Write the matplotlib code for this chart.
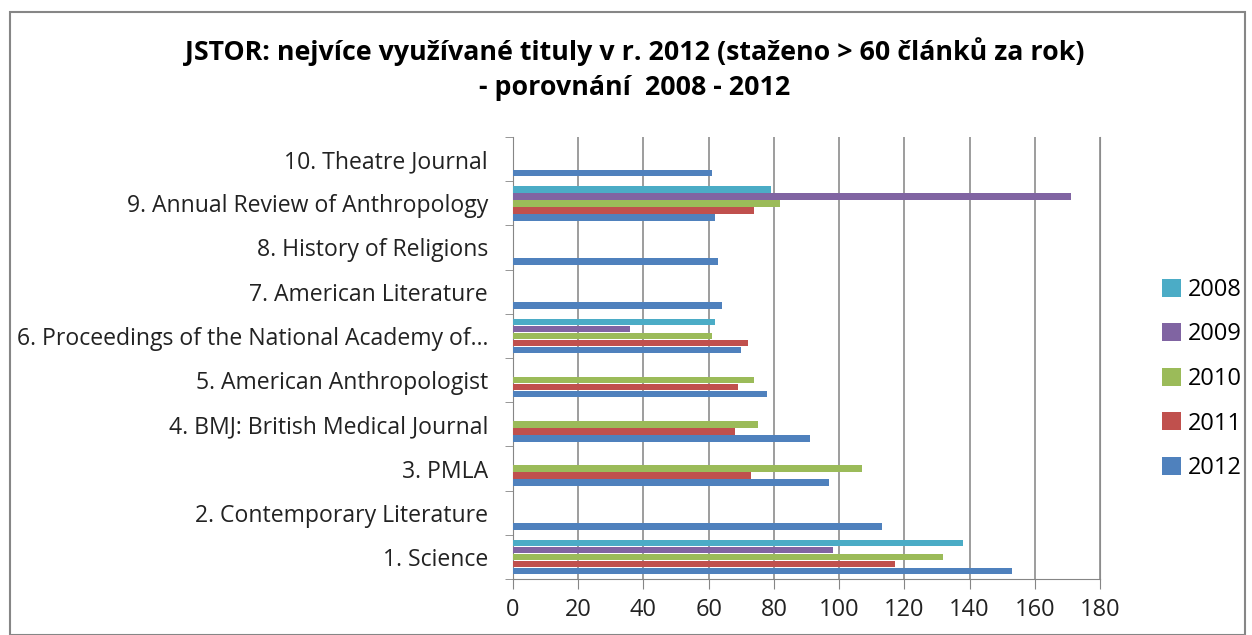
import numpy as np
import matplotlib.pyplot as plt
from matplotlib.patches import Rectangle

plt.rcParams['font.family'] = ['Open Sans', 'DejaVu Sans']

# categories bottom to top
titles = ["1. Science", "2. Contemporary Literature", "3. PMLA",
          "4. BMJ: British Medical Journal", "5. American Anthropologist",
          "6. Proceedings of the National Academy of\u2026",
          "7. American Literature", "8. History of Religions",
          "9. Annual Review of Anthropology", "10. Theatre Journal"]

nan = np.nan
y2012 = [153, 113, 97, 91, 78, 70, 64, 63, 62, 61]
y2011 = [117, nan, 73, 68, 69, 72, nan, nan, 74, nan]
y2010 = [132, nan, 107, 75, 74, 61, nan, nan, 82, nan]
y2009 = [98, nan, nan, nan, nan, 36, nan, nan, 171, nan]
y2008 = [138, nan, nan, nan, nan, 62, nan, nan, 79, nan]

series = [("2012", y2012, "#4F81BD"), ("2011", y2011, "#C0504D"),
          ("2010", y2010, "#9BBB59"), ("2009", y2009, "#8064A2"),
          ("2008", y2008, "#4BACC6")]
xticks = list(range(0, 181, 20))

fig = plt.figure(figsize=(12.52, 6.35), dpi=100)
ax = fig.add_axes([513/1252, 1-579/635, (1100-513)/1252, (579-137)/635])

pos = np.arange(len(titles))
group = 0.79
h = group / len(series)
handles = []
for k, (name, vals, col) in enumerate(series):
    b = ax.barh(pos - group/2 + h*(k+0.5), vals, height=h*0.95, color=col,
                label=name, zorder=3)
    handles.append(b)

ax.set_xlim(0, 180)
ax.set_ylim(-0.5, len(titles)-0.5)
ax.set_xticks(xticks)
ax.set_yticks(pos)
ax.set_yticklabels(titles)
ax.set_yticks(np.arange(-0.5, len(titles)), minor=True)
ax.tick_params(axis='y', which='major', length=0, labelsize=16.6, pad=18, colors='#222222')
ax.tick_params(axis='y', which='minor', length=6, color='#868686')
ax.tick_params(axis='x', length=7, labelsize=17, pad=7, colors='#868686', labelcolor='#222222')
ax.grid(axis='x', color='#8c8c8c', linewidth=1.2, zorder=0)
ax.spines['top'].set_visible(False)
ax.spines['right'].set_color('#8c8c8c')
ax.spines['left'].set_color('#868686')
ax.spines['bottom'].set_color('#868686')

fig.text(635/1252, 1-52/635, "JSTOR: nejv\u00edce vyu\u017e\u00edvan\u00e9 tituly v r. 2012 (sta\u017eeno > 60 \u010dl\u00e1nk\u016f za rok)",
         ha='center', va='center', fontsize=19.3, fontweight='bold')
fig.text(635/1252, 1-88/635, "- porovn\u00e1n\u00ed  2008 - 2012",
         ha='center', va='center', fontsize=19.3, fontweight='bold')

leg = fig.legend(handles[::-1], [s[0] for s in series][::-1],
                 loc='center left', bbox_to_anchor=(1162/1252, 1-379/635),
                 frameon=False, fontsize=17, labelspacing=0.87,
                 handlelength=0.8, handleheight=0.8, handletextpad=0.3,
                 borderpad=0, borderaxespad=0)

fig.patches.append(Rectangle((10/1252, 0), 1235/1252, 1-12/635,
                             transform=fig.transFigure, fill=False,
                             edgecolor='#868686', linewidth=1.5))

plt.savefig("out.png", dpi=100)
